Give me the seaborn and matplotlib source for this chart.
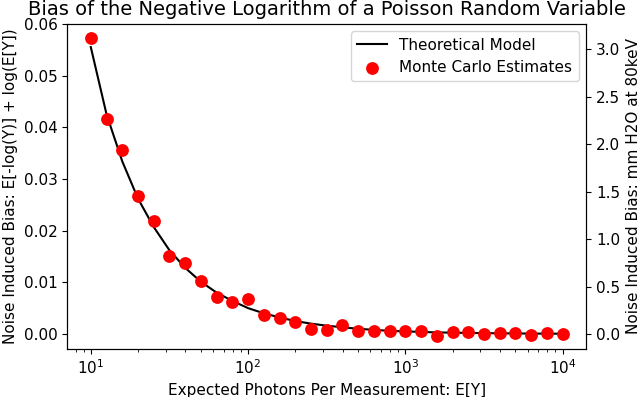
import numpy as np
import pandas as pd
import matplotlib
matplotlib.use('Agg')
import matplotlib.pyplot as plt
import seaborn as sns

# expected photons per measurement (10 points per decade)
photons = [10, 12.59, 15.85, 19.95, 25.12, 31.62, 39.81, 50.12, 63.1, 79.43,
           100, 125.9, 158.5, 199.5, 251.2, 316.2, 398.1, 501.2, 631.0, 794.3,
           1000, 1259, 1585, 1995, 2512, 3162, 3981, 5012, 6310, 7943, 10000]

# theoretical curve
model = [0.0555, 0.0425, 0.0334, 0.0262, 0.0207, 0.0162, 0.0128, 0.0101, 0.0080, 0.0064,
         0.0050, 0.0040, 0.0032, 0.0025, 0.0020, 0.0016, 0.0013, 0.0010, 0.0008, 0.0006,
         0.0005, 0.0004, 0.0003, 0.00025, 0.0002, 0.00016, 0.00013, 0.0001, 0.00008, 0.00006,
         0.00005]

# monte carlo estimates
mc = [0.0573, 0.0416, 0.0355, 0.0266, 0.0219, 0.0151, 0.0137, 0.0103, 0.0071, 0.0062,
      0.0067, 0.0037, 0.0030, 0.0023, 0.0010, 0.0008, 0.0017, 0.0006, 0.0006, 0.0005,
      0.0005, 0.0006, -0.0003, 0.0003, 0.0004, 0.0000, 0.0002, 0.0002, -0.0002, 0.0001,
      -0.0001]

MM_PER_UNIT = 54.45  # mm H2O at 80keV

df_model = pd.DataFrame({'photons': photons, 'bias': model})
df_mc = pd.DataFrame({'photons': photons, 'bias': mc})

plt.rcParams['font.size'] = 11

fig = plt.figure(figsize=(6.4, 3.97), dpi=100)
ax = fig.add_axes([0.105, 0.121, 0.811, 0.819])

sns.lineplot(data=df_model, x='photons', y='bias', color='black', linewidth=1.5,
             label='Theoretical Model', ax=ax)
sns.scatterplot(data=df_mc, x='photons', y='bias', color='red', s=85, linewidth=0,
                label='Monte Carlo Estimates', ax=ax, zorder=3)
ax.set_xscale('log')
ax.set_xlim(10 ** 0.85, 10 ** 4.15)
ax.set_ylim(-0.0029, 0.06)
ax.set_xlabel('Expected Photons Per Measurement: E[Y]')
ax.set_ylabel('Noise Induced Bias: E[-log(Y)] + log(E[Y])')
ax.set_title('Bias of the Negative Logarithm of a Poisson Random Variable', fontsize=14)
ax.legend(loc='upper right')

ax2 = ax.twinx()
lo, hi = ax.get_ylim()
ax2.set_ylim(lo * MM_PER_UNIT, hi * MM_PER_UNIT)
ax2.set_ylabel('Noise Induced Bias: mm H2O at 80keV')

fig.savefig('out.png', dpi=100)
